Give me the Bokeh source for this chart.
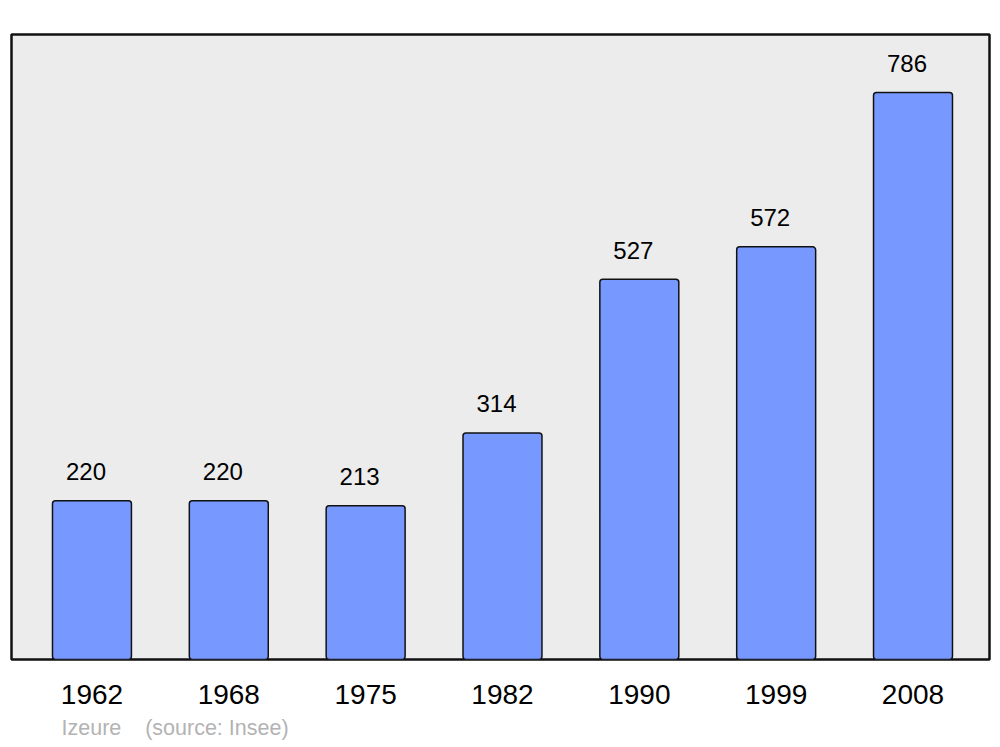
from bokeh.plotting import figure
from bokeh.models import Range1d, FixedTicker, Title, ColumnDataSource
from bokeh.core.properties import value
from bokeh.embed import file_html
from bokeh.resources import INLINE

years = ["1962", "1968", "1975", "1982", "1990", "1999", "2008"]
population = [220, 220, 213, 314, 527, 572, 786]
commune = "Izeure"
source_note = "(source: Insee)"

idx = list(range(len(years)))
src = ColumnDataSource(dict(x=idx, y=population, lbl=[str(v) for v in population]))

p = figure(width=1000, height=747, output_backend="svg", toolbar_location=None,
           x_range=Range1d(-0.588, 6.559), y_range=Range1d(0, 866.3),
           min_border_left=11, min_border_right=11, min_border_top=34, min_border_bottom=87)
p.background_fill_color = "#ececec"
p.border_fill_color = "white"
p.outline_line_color = "#111111"
p.outline_line_width = 2.5
p.grid.visible = False
p.yaxis.visible = False

p.vbar(x="x", top="y", bottom=0, width=0.577, source=src,
       fill_color="#7799ff", line_color="#111111", line_width=1.5, border_radius=3)

p.text(x="x", y="y", text="lbl", source=src, x_offset=-6, y_offset=-29,
       text_align="center", text_baseline="alphabetic",
       text_font=value("Liberation Sans"), text_font_size="24px", text_color="black")

ax = p.xaxis[0]
ax.ticker = FixedTicker(ticks=idx)
ax.major_label_overrides = {i: y for i, y in zip(idx, years)}
ax.axis_line_color = None
ax.major_tick_line_color = None
ax.minor_tick_line_color = None
ax.major_tick_out = 0
ax.major_tick_in = 0
ax.major_label_standoff = 25
ax.major_label_text_font = "Liberation Sans"
ax.major_label_text_font_size = "28px"
ax.major_label_text_color = "black"

p.add_layout(Title(text=commune + "\u00a0\u00a0\u00a0\u00a0" + source_note, align="left", offset=50,
                   text_font="Liberation Sans", text_font_size="21.5px", text_font_style="normal",
                   text_color="#b3b3b3", standoff=15), "below")

open("out.html", "w").write(file_html(p, INLINE))
